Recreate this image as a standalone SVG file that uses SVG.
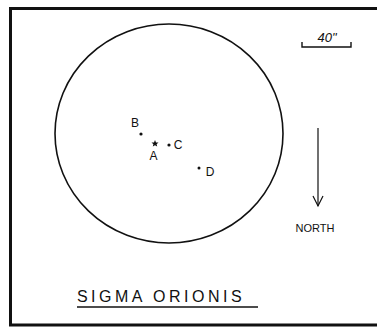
<svg xmlns="http://www.w3.org/2000/svg" width="377" height="331" viewBox="0 0 377 331">
<style>
.t{font-family:"Liberation Sans","DejaVu Sans",sans-serif;fill:#111;}
.ln{stroke:#111;fill:none;}
</style>
<rect width="377" height="331" fill="#fff"/>
<g id="frame"><path class="ln" d="M380,8.5 L10.5,8.5 L10.5,325 L380,325" stroke-width="3"/></g>
<g id="field"><ellipse class="ln" cx="169" cy="133.5" rx="114" ry="109.5" stroke-width="1.6"/></g>
<g id="starB"><circle cx="141" cy="134" r="1.6" fill="#111"/><text class="t" x="135" y="127" font-size="12" text-anchor="middle">B</text></g>
<g id="starA"><path d="M155,140 L156,142.4 L158.5,142.6 L156.6,144.2 L157.2,146.6 L155,145.3 L152.8,146.6 L153.4,144.2 L151.5,142.6 L154,142.4 Z" fill="#111"/><text class="t" x="153.5" y="160" font-size="12" text-anchor="middle">A</text></g>
<g id="starC"><circle cx="169" cy="145" r="1.6" fill="#111"/><text class="t" x="178" y="149" font-size="12" text-anchor="middle">C</text></g>
<g id="starD"><circle cx="199" cy="168" r="1.5" fill="#111"/><text class="t" x="210" y="176" font-size="12" text-anchor="middle">D</text></g>
<g id="scale"><text class="t" x="327" y="42" font-size="13" text-anchor="middle" font-style="italic">40"</text><path class="ln" d="M302,42 L302,47 L351,47 L351,42" stroke-width="1.4"/></g>
<g id="connectors"><path class="ln" d="M318,128 L318,206" stroke-width="1.2"/><path class="ln" d="M313,196 L318,206 L323,196" stroke-width="1.2"/></g>
<g id="north"><text class="t" x="315" y="232" font-size="11" text-anchor="middle">NORTH</text></g>
<g id="title"><text class="t" x="161" y="302" font-size="16" text-anchor="middle" letter-spacing="3.5">SIGMA ORIONIS</text><path class="ln" d="M77,307 L258,307" stroke-width="1.4"/></g>
</svg>
